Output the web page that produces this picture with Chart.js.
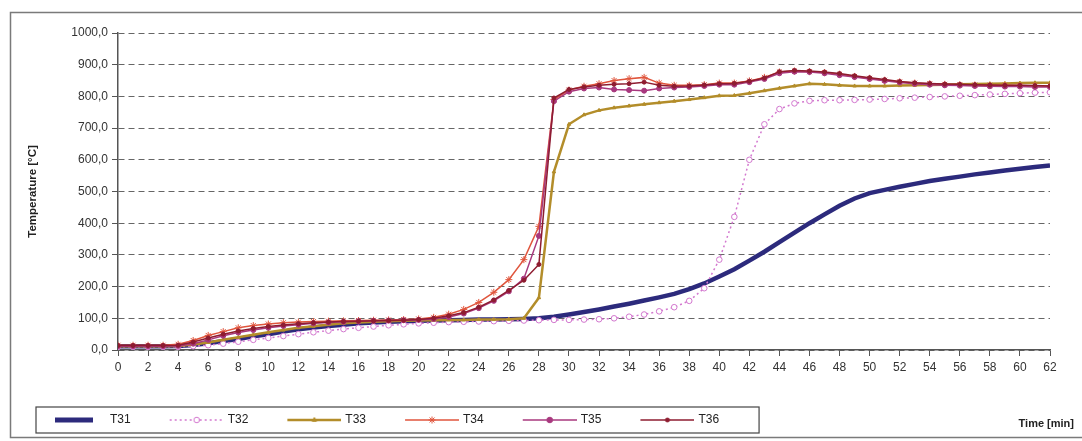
<!DOCTYPE html>
<html>
<head>
<meta charset="utf-8">
<script src="https://cdn.jsdelivr.net/npm/chart.js@4.4.1/dist/chart.umd.min.js"></script>
<style>
  html, body { margin: 0; padding: 0; background: #fff; }
  #wrap { width: 1082px; height: 441px; }
</style>
</head>
<body>
<div id="wrap"><canvas id="tempChart" width="1082" height="441"></canvas></div>
<script>
// time in minutes, one reading per minute
const minutes = [0, 1, 2, 3, 4, 5, 6, 7, 8, 9, 10, 11, 12, 13, 14, 15, 16, 17, 18, 19, 20,
  21, 22, 23, 24, 25, 26, 27, 28, 29, 30, 31, 32, 33, 34, 35, 36, 37, 38, 39, 40,
  41, 42, 43, 44, 45, 46, 47, 48, 49, 50, 51, 52, 53, 54, 55, 56, 57, 58, 59, 60, 61, 62];

const t31 = [12, 12, 12, 12, 13, 16, 21, 28, 35, 43, 50, 58, 65, 71, 76, 80, 84, 87, 89, 91, 92,
  93, 94, 95, 96, 96, 97, 98, 100, 105, 112, 120, 128, 137, 146, 156, 166, 177, 192, 210, 232,
  255, 282, 310, 340, 370, 400, 428, 455, 478, 495, 505, 515, 524, 533, 540, 547, 554, 560, 566, 572, 577, 582];

const t32 = [10, 10, 10, 10, 10, 12, 15, 20, 26, 32, 38, 44, 50, 56, 61, 66, 70, 74, 78, 81, 84,
  86, 88, 89, 90, 91, 92, 93, 94, 95, 95, 96, 97, 100, 105, 112, 122, 135, 155, 195, 285,
  420, 600, 712, 760, 778, 786, 788, 788, 789, 790, 792, 794, 796, 798, 800, 802, 804, 806, 808, 810, 812, 813];

const t33 = [12, 12, 12, 12, 13, 17, 24, 32, 40, 48, 56, 63, 70, 75, 80, 84, 87, 89, 91, 92, 93,
  94, 95, 95, 96, 96, 97, 100, 165, 562, 712, 742, 756, 764, 770, 775, 780, 785, 790, 796, 802,
  803, 810, 818, 826, 833, 840, 838, 835, 833, 833, 833, 834, 835, 836, 837, 838, 839, 840, 841, 842, 843, 843];

const t34 = [15, 15, 15, 15, 18, 30, 46, 58, 70, 77, 82, 86, 88, 90, 91, 92, 93, 94, 95, 96, 98,
  103, 113, 128, 150, 182, 222, 285, 390, 790, 820, 832, 840, 850, 856, 860, 842, 835, 835, 837, 842,
  842, 849, 860, 877, 880, 878, 875, 870, 863, 857, 851, 846, 842, 840, 838, 837, 836, 835, 835, 834, 833, 833];

const t35 = [12, 12, 12, 12, 13, 20, 32, 45, 55, 63, 70, 76, 80, 84, 87, 89, 91, 92, 93, 94, 95,
  98, 104, 115, 132, 155, 185, 225, 360, 785, 815, 825, 828, 822, 820, 818, 825, 828, 830, 833, 837,
  837, 845, 855, 873, 878, 877, 873, 867, 861, 855, 849, 844, 840, 837, 835, 834, 833, 832, 831, 831, 830, 830];

const t36 = [14, 14, 14, 14, 15, 25, 38, 50, 60, 68, 74, 79, 83, 86, 88, 90, 91, 92, 93, 94, 96,
  100, 108, 118, 135, 158, 188, 220, 270, 795, 822, 830, 835, 838, 840, 845, 835, 832, 833, 836, 840,
  841, 848, 858, 878, 882, 880, 877, 872, 865, 859, 853, 847, 843, 841, 839, 838, 837, 836, 835, 835, 834, 833];

const seriesNames = ['T31', 'T32', 'T33', 'T34', 'T35', 'T36'];
const yTicks = { min: 0, max: 1000, step: 100 };
const xTicks = { min: 0, max: 62, step: 2 };

const FONT = "'Liberation Sans', Arial, sans-serif";

// little line+marker picture used as legend symbol
function legendSample(color, width, dash, style, radius, fill, barOnly) {
  const c = document.createElement('canvas');
  c.width = 60;
  c.height = 12;
  const g = c.getContext('2d');
  g.strokeStyle = color;
  g.lineWidth = width;
  g.setLineDash(dash);
  g.beginPath();
  if (barOnly) {
    g.moveTo(9, 6);
    g.lineTo(47, 6);
  } else {
    g.moveTo(6, 6);
    g.lineTo(60, 6);
  }
  g.stroke();
  g.setLineDash([]);
  if (style) {
    g.fillStyle = fill;
    g.lineWidth = 1;
    Chart.helpers.drawPoint(g, { pointStyle: style, radius: radius, borderWidth: 1, rotation: 0 }, 33, 6);
  }
  return c;
}

const datasets = [
  {
    label: seriesNames[0], data: t31,
    borderColor: '#2c2a7c', backgroundColor: '#2c2a7c', borderWidth: 4.5,
    pointRadius: 0, order: 6,
    sample: legendSample('#2c2a7c', 5, [], null, 0, null, true)
  },
  {
    label: seriesNames[1], data: t32,
    borderColor: '#d378cf', backgroundColor: '#ffffff', borderWidth: 1.5, borderDash: [2, 3],
    pointStyle: 'circle', pointRadius: 2.8, pointBorderWidth: 1, order: 5,
    sample: legendSample('#d378cf', 1.5, [2, 3], 'circle', 2.8, '#ffffff')
  },
  {
    label: seriesNames[2], data: t33,
    borderColor: '#b38d2a', backgroundColor: '#b38d2a', borderWidth: 2.5,
    pointStyle: 'triangle', pointRadius: 2, pointBorderWidth: 1, order: 4,
    sample: legendSample('#b38d2a', 2.5, [], 'triangle', 2.5, '#b38d2a')
  },
  {
    label: seriesNames[3], data: t34,
    borderColor: '#e0553c', backgroundColor: '#e0553c', borderWidth: 1.5,
    pointStyle: 'star', pointRadius: 3.5, pointBorderWidth: 1, order: 3,
    sample: legendSample('#e0553c', 1.5, [], 'star', 3.5, '#e0553c')
  },
  {
    label: seriesNames[4], data: t35,
    borderColor: '#a8387e', backgroundColor: '#a8387e', borderWidth: 1.5,
    pointStyle: 'circle', pointRadius: 2.5, pointBorderWidth: 1, order: 2,
    sample: legendSample('#a8387e', 1.5, [], 'circle', 2.8, '#a8387e')
  },
  {
    label: seriesNames[5], data: t36,
    borderColor: '#8e1c30', backgroundColor: '#8e1c30', borderWidth: 1.5,
    pointStyle: 'circle', pointRadius: 2, pointBorderWidth: 1, order: 1,
    sample: legendSample('#8e1c30', 1.5, [], 'circle', 2, '#8e1c30')
  }
];

// outer frame, legend box and the "Time [min]" caption
const framePlugin = {
  id: 'frame',
  beforeDraw(chart) {
    const ctx = chart.ctx;
    ctx.save();
    ctx.fillStyle = '#ffffff';
    ctx.fillRect(0, 0, chart.width, chart.height);
    ctx.strokeStyle = '#7a7a7a';
    ctx.lineWidth = 1.5;
    ctx.strokeRect(10.5, 12.5, 1090, 425);
    ctx.restore();
  },
  afterDraw(chart) {
    const ctx = chart.ctx;
    const boxes = chart.legend.legendHitBoxes;
    if (boxes && boxes.length) {
      const first = boxes[0];
      const last = boxes[boxes.length - 1];
      const left = first.left - 12;
      const top = first.top - 7;
      const right = last.left + last.width + 40;
      ctx.save();
      ctx.strokeStyle = '#444';
      ctx.lineWidth = 1.2;
      ctx.strokeRect(left, top, right - left, 26);
      ctx.restore();
    }
    ctx.save();
    ctx.font = "bold 11px " + FONT;
    ctx.fillStyle = '#222';
    ctx.textAlign = 'right';
    ctx.textBaseline = 'middle';
    ctx.fillText('Time [min]', 1074, 424);
    ctx.restore();
  }
};

new Chart(document.getElementById('tempChart'), {
  type: 'line',
  data: {
    labels: minutes,
    datasets: datasets.map(d => Object.assign({ tension: 0, fill: false }, d))
  },
  options: {
    responsive: false,
    animation: false,
    devicePixelRatio: 1,
    layout: { padding: { left: 13, right: 32, top: 33, bottom: 5 } },
    plugins: {
      tooltip: { enabled: false },
      legend: {
        position: 'bottom',
        align: 'start',
        labels: {
          usePointStyle: true,
          pointStyleWidth: 56,
          padding: 35,
          color: '#222',
          font: { family: FONT, size: 12 },
          generateLabels(chart) {
            return chart.data.datasets.map((ds, i) => ({
              text: ds.label,
              pointStyle: ds.sample,
              fillStyle: ds.borderColor,
              strokeStyle: ds.borderColor,
              lineWidth: 0,
              hidden: false,
              datasetIndex: i,
              fontColor: '#222'
            }));
          }
        }
      }
    },
    scales: {
      x: {
        type: 'linear',
        min: xTicks.min,
        max: xTicks.max,
        afterFit(scale) { scale.height = 29; },
        ticks: {
          stepSize: xTicks.step,
          autoSkip: false,
          maxRotation: 0,
          color: '#333',
          padding: 4,
          font: { family: FONT, size: 12 }
        },
        grid: {
          drawOnChartArea: false,
          drawTicks: true,
          tickLength: 6,
          tickColor: '#555',
          color: '#555'
        },
        border: { color: '#555', width: 1.5 }
      },
      y: {
        min: yTicks.min,
        max: yTicks.max,
        afterFit(scale) { scale.width = 105; },
        ticks: {
          stepSize: yTicks.step,
          color: '#333',
          padding: 4,
          font: { family: FONT, size: 12 },
          callback: v => v.toFixed(1).replace('.', ',')
        },
        grid: {
          color: '#666',
          lineWidth: 1,
          tickLength: 6,
          tickColor: '#555',
          tickBorderDash: []
        },
        border: { color: '#555', width: 1.5, dash: [6, 4] },
        title: {
          display: true,
          text: 'Temperature [°C]',
          color: '#222',
          padding: { top: 13, bottom: 0 },
          font: { family: FONT, size: 11.5, weight: 'bold' }
        }
      }
    }
  },
  plugins: [framePlugin]
});
</script>
</body>
</html>
